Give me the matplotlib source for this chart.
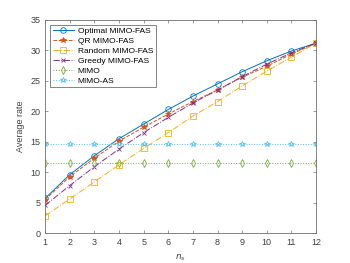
import matplotlib
matplotlib.use('Agg')
import matplotlib.pyplot as plt
import numpy as np

ns = np.arange(1, 13)
optimal = [5.7, 9.6, 12.7, 15.5, 17.9, 20.3, 22.5, 24.5, 26.5, 28.3, 29.9, 31.2]
qr = [5.5, 9.25, 12.3, 15.1, 17.4, 19.55, 21.6, 23.5, 25.6, 27.4, 29.4, 31.2]
rand = [2.8, 5.6, 8.4, 11.2, 13.9, 16.5, 19.2, 21.6, 24.15, 26.6, 28.9, 31.2]
greedy = [4.55, 7.8, 10.9, 13.8, 16.5, 19.0, 21.35, 23.5, 25.7, 27.75, 29.6, 31.2]
mimo = [11.45] * 12
mimo_as = [14.7] * 12

plt.rcParams['font.family'] = 'Liberation Sans'
plt.rcParams['font.size'] = 6.5

fig = plt.figure(figsize=(3.5, 2.63), dpi=100)
ax = fig.add_axes([0.129, 0.114, 0.774, 0.81])

lw = 0.7
ms = 4
ax.plot(ns, optimal, '-o', color='#0072BD', lw=lw, ms=ms, mfc='none', mew=0.6, label='Optimal MIMO-FAS')
ax.plot(ns, qr, '--*', color='#D95319', lw=lw, ms=ms, mew=0.6, label='QR MIMO-FAS')
ax.plot(ns, rand, '-.s', color='#EDB120', lw=lw, ms=ms, mfc='none', mew=0.6, label='Random MIMO-FAS')
ax.plot(ns, greedy, '-.x', color='#7E2F8E', lw=lw, ms=ms - 0.5, mew=0.6, label='Greedy MIMO-FAS')
ax.plot(ns, mimo, ':d', color='#77AC30', lw=lw, ms=ms, mfc='none', mew=0.6, label='MIMO')
ax.plot(ns, mimo_as, ':*', color='#4DBEEE', lw=lw, ms=ms, mfc='none', mew=0.6, label='MIMO-AS')

ax.set_xlim(1, 12)
ax.set_ylim(0, 35)
ax.set_xticks(ns)
ax.set_yticks(np.arange(0, 36, 5))
ax.set_xlabel('$n_s$', color='#404040')
ax.set_ylabel('Average rate', color='#404040')
ax.tick_params(direction='in', top=True, right=True, length=2.5, width=0.5,
               colors='#707070', labelcolor='#404040')
for s in ax.spines.values():
    s.set_linewidth(0.6)
    s.set_color('#707070')

leg = ax.legend(loc='upper left', fontsize=6, handlelength=2.6, borderpad=0.3,
                labelspacing=0.25, fancybox=False, framealpha=1, edgecolor='#707070',
                handletextpad=0.4, borderaxespad=0.6)
leg.get_frame().set_linewidth(0.6)

fig.savefig('out.png', dpi=100)
